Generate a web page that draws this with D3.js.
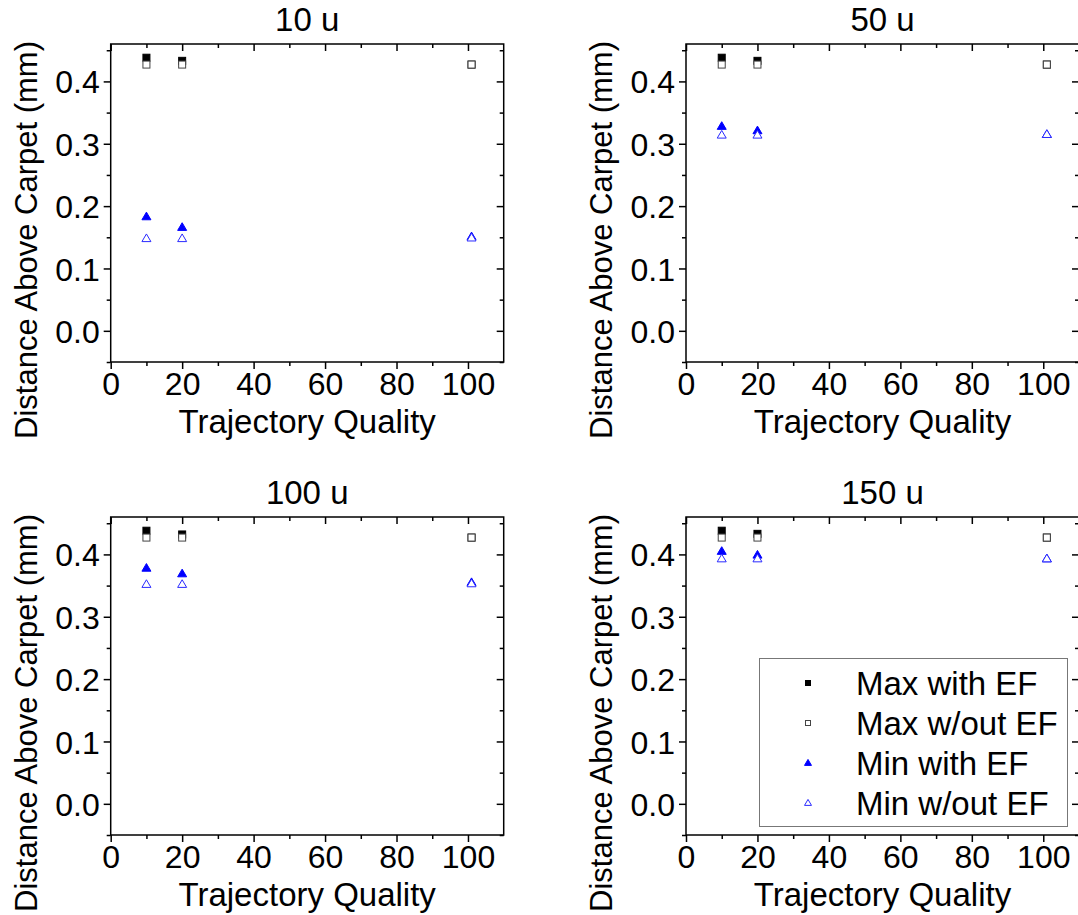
<!DOCTYPE html>
<html>
<head>
<meta charset="utf-8">
<script src="https://cdn.jsdelivr.net/npm/d3@7"></script>
<style>
  html, body { margin: 0; padding: 0; background: #fff; }
  svg { display: block; }
  text { font-family: "Liberation Sans", Arial, sans-serif; fill: #000; }
</style>
</head>
<body>
<svg id="chart" width="1078" height="915"></svg>
<script>
// Trajectory quality settings tested
const xValues = [10, 20, 101];

// One panel per filter size
const panelTitles = ["10 u", "50 u", "100 u", "150 u"];

// Distance above carpet (mm), one row per panel
const maxWithEF = [
  [0.438, 0.433, 0.427],
  [0.438, 0.433, 0.427],
  [0.438, 0.432, 0.427],
  [0.438, 0.433, 0.427]
];
const maxWithoutEF = [
  [0.427, 0.427, 0.427],
  [0.427, 0.427, 0.427],
  [0.427, 0.427, 0.427],
  [0.427, 0.427, 0.427]
];
const minWithEF = [
  [0.183, 0.166, 0.151],
  [0.328, 0.321, 0.315],
  [0.378, 0.369, 0.355],
  [0.405, 0.399, 0.393]
];
const minWithoutEF = [
  [0.148, 0.148, 0.149],
  [0.314, 0.314, 0.315],
  [0.352, 0.352, 0.353],
  [0.393, 0.393, 0.393]
];

const xTicks = [0, 20, 40, 60, 80, 100];
const yTicks = [0.0, 0.1, 0.2, 0.3, 0.4];

const legendLabels = ["Max with EF", "Max w/out EF", "Min with EF", "Min w/out EF"];

const svg = d3.select("#chart");

const W = 393, H = 318;
const origins = [
  { x: 110.7, y: 44 },
  { x: 686, y: 44 },
  { x: 110.7, y: 517 },
  { x: 686, y: 517 }
];

const series = [
  { data: maxWithEF, shape: "square", fill: "#000", stroke: "#000", size: 7 },
  { data: maxWithoutEF, shape: "square", fill: "#fff", stroke: "#444", size: 7 },
  { data: minWithEF, shape: "triangle", fill: "#0000ff", stroke: "#0000ff", size: 9 },
  { data: minWithoutEF, shape: "triangle", fill: "#fff", stroke: "#2a2aff", size: 9 }
];

function drawMarker(g, shape, cx, cy, size, fill, stroke) {
  if (shape === "square") {
    g.append("rect")
      .attr("x", cx - size / 2).attr("y", cy - size / 2)
      .attr("width", size).attr("height", size)
      .attr("fill", fill).attr("stroke", stroke).attr("stroke-width", 1);
  } else {
    const h = size * 0.85;
    const pts = [[cx, cy - h * 0.6], [cx + size / 2, cy + h * 0.4], [cx - size / 2, cy + h * 0.4]];
    g.append("path")
      .attr("d", "M" + pts.map(p => p.join(",")).join("L") + "Z")
      .attr("fill", fill).attr("stroke", stroke).attr("stroke-width", 1)
      .attr("stroke-linejoin", "miter");
  }
}

panelTitles.forEach((title, i) => {
  const o = origins[i];
  const g = svg.append("g").attr("transform", `translate(${o.x},${o.y})`);

  const x = d3.scaleLinear().domain([0, 110]).range([0, W]);
  const y = d3.scaleLinear().domain([-0.05, 0.46]).range([H, 0]);

  const minorX = d3.range(10, 110, 20);
  const minorY = d3.range(-0.05, 0.46, 0.1).map(v => +v.toFixed(2));

  // bottom axis: outward ticks with labels
  const bottom = g.append("g").attr("transform", `translate(0,${H})`)
    .call(d3.axisBottom(x).tickValues(xTicks).tickFormat(d3.format("d")).tickSize(7).tickPadding(4));
  g.append("g").attr("transform", `translate(0,${H})`)
    .call(d3.axisBottom(x).tickValues(minorX).tickFormat("").tickSize(4));

  // left axis: outward ticks with labels
  const left = g.append("g")
    .call(d3.axisLeft(y).tickValues(yTicks).tickFormat(d3.format(".1f")).tickSize(7).tickPadding(4));
  g.append("g")
    .call(d3.axisLeft(y).tickValues(minorY).tickFormat("").tickSize(4));

  // top and right axes: inward ticks, no labels
  g.append("g")
    .call(d3.axisBottom(x).tickValues(xTicks).tickFormat("").tickSize(7));
  g.append("g")
    .call(d3.axisBottom(x).tickValues(minorX).tickFormat("").tickSize(4));
  g.append("g").attr("transform", `translate(${W},0)`)
    .call(d3.axisLeft(y).tickValues(yTicks).tickFormat("").tickSize(7));
  g.append("g").attr("transform", `translate(${W},0)`)
    .call(d3.axisLeft(y).tickValues(minorY).tickFormat("").tickSize(4));

  g.selectAll(".domain").remove();
  g.selectAll(".tick line").attr("stroke", "#000").attr("stroke-width", 1.5);
  g.selectAll(".tick text").style("font-family", "'Liberation Sans', Arial, sans-serif")
    .style("font-size", "32px").attr("fill", "#000");
  bottom.selectAll(".tick text").attr("y", 33).attr("dy", "0");
  left.selectAll(".tick text").attr("dy", "0.36em");

  // frame
  g.append("rect").attr("x", 0).attr("y", 0).attr("width", W).attr("height", H)
    .attr("fill", "none").attr("stroke", "#000").attr("stroke-width", 1.5);

  // data markers
  const marks = g.append("g");
  series.forEach(s => {
    s.data[i].forEach((v, k) => {
      drawMarker(marks, s.shape, x(xValues[k]), y(v), s.size, s.fill, s.stroke);
    });
  });

  // titles
  g.append("text").attr("x", W / 2).attr("y", -13)
    .attr("text-anchor", "middle").style("font-size", "33px").text(title);
  g.append("text").attr("x", W / 2).attr("y", H + 71)
    .attr("text-anchor", "middle").style("font-size", "33px").text("Trajectory Quality");
  g.append("text")
    .attr("x", -(H / 2 + 37)).attr("y", -74)
    .attr("transform", "rotate(-90)")
    .attr("text-anchor", "middle").style("font-size", "31px")
    .text("Distance Above Carpet (mm)");

  // legend in the last panel
  if (i === 3) {
    const lg = svg.append("g");
    lg.append("rect").attr("x", 759.5).attr("y", 658.5).attr("width", 308).attr("height", 168)
      .attr("fill", "#fff").attr("stroke", "#777").attr("stroke-width", 1);
    const legendSeries = [
      { shape: "square", fill: "#000", stroke: "#000", size: 5 },
      { shape: "square", fill: "#fff", stroke: "#444", size: 5 },
      { shape: "triangle", fill: "#0000ff", stroke: "#0000ff", size: 7 },
      { shape: "triangle", fill: "#fff", stroke: "#2a2aff", size: 7 }
    ];
    legendLabels.forEach((lab, k) => {
      const cy = 683 + k * 40;
      const ls = legendSeries[k];
      drawMarker(lg, ls.shape, 808, cy, ls.size, ls.fill, ls.stroke);
      lg.append("text").attr("x", 856).attr("y", cy).attr("dy", "0.36em")
        .style("font-size", "33px").text(lab);
    });
  }
});
</script>
</body>
</html>
